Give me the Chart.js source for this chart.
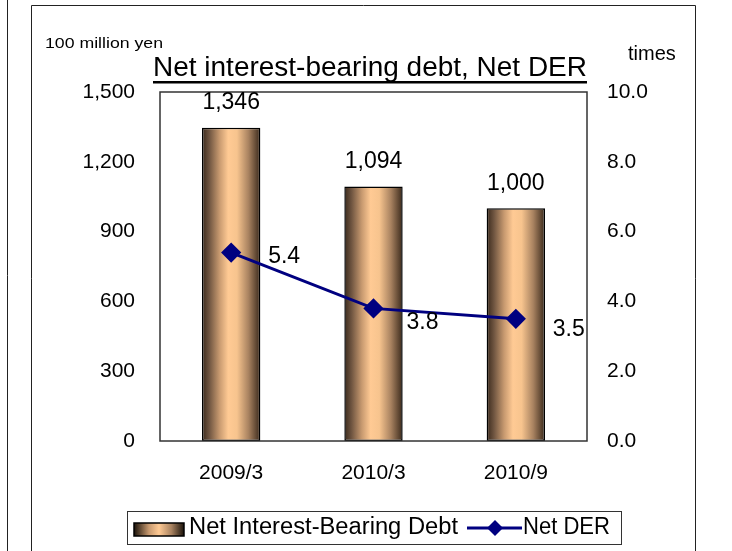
<!DOCTYPE html>
<html>
<head>
<meta charset="utf-8">
<script src="https://cdn.jsdelivr.net/npm/chart.js@4"></script>
<style>
  body { margin: 0; background: #fff; }
  #wrap { width: 732px; height: 551px; }
</style>
</head>
<body>
<div id="wrap"><canvas id="myChart-Debt" width="732" height="551"></canvas></div>
<script>
const periods = ['2009/3', '2010/3', '2010/9'];
const netDebt = [1346, 1094, 1000];
const netDer = [5.4, 3.8, 3.5];
const debtTicks = [0, 300, 600, 900, 1200, 1500];
const derTicks = [0.0, 2.0, 4.0, 6.0, 8.0, 10.0];

const FONT = 'Liberation Sans, Arial, sans-serif';
const barHalf = 29;

function barGradient(ctx) {
  const chart = ctx.chart;
  if (!chart.chartArea) return '#f5c08a';
  const cx = chart.scales.x.getPixelForValue(ctx.dataIndex);
  const g = chart.ctx.createLinearGradient(cx - barHalf, 0, cx + barHalf, 0);
  g.addColorStop(0, '#3b2a1c');
  g.addColorStop(0.12, '#6e5440');
  g.addColorStop(0.3, '#c89a70');
  g.addColorStop(0.45, '#ffca94');
  g.addColorStop(0.6, '#f7c48e');
  g.addColorStop(0.8, '#a88260');
  g.addColorStop(1, '#3b2a1c');
  return g;
}

function drawScaledText(c, text, x, y, size, width, align) {
  c.save();
  c.font = size + 'px ' + FONT;
  const w = c.measureText(text).width;
  const sx = width ? width / w : 1;
  c.translate(x, y);
  c.scale(sx, 1);
  c.textBaseline = 'middle';
  c.textAlign = align || 'left';
  c.fillText(text, 0, 0);
  c.restore();
}

const decorations = {
  id: 'decorations',
  beforeDraw(chart) {
    const c = chart.ctx;
    c.save();
    c.fillStyle = '#fff';
    c.fillRect(0, 0, chart.width, chart.height);
    c.strokeStyle = '#222';
    c.lineWidth = 1;
    c.beginPath();
    c.moveTo(7.5, 0); c.lineTo(7.5, 551);
    c.moveTo(31.5, 560); c.lineTo(31.5, 5.5); c.lineTo(695.5, 5.5); c.lineTo(695.5, 560);
    c.stroke();
    c.restore();
  },
  afterDatasetsDraw(chart) {
    const c = chart.ctx;
    const a = chart.chartArea;
    const xs = chart.scales.x, ys = chart.scales.y, y1 = chart.scales.y1;
    c.save();
    c.strokeStyle = '#333';
    c.lineWidth = 1.5;
    c.strokeRect(a.left, a.top, a.right - a.left, a.bottom - a.top);
    c.fillStyle = '#000';

    // bar value labels
    netDebt.forEach((v, i) => {
      drawScaledText(c, v.toLocaleString('en-US'), xs.getPixelForValue(i), ys.getPixelForValue(v) - 25, 23, null, 'center');
    });
    // line value labels
    const offs = [[37, 4], [33, 14], [37, 11]];
    netDer.forEach((v, i) => {
      drawScaledText(c, v.toFixed(1), xs.getPixelForValue(i) + offs[i][0], y1.getPixelForValue(v) + offs[i][1], 23, null, 'left');
    });

    // title
    drawScaledText(c, 'Net interest-bearing debt, Net DER', 153, 69, 27, 434, 'left');
    c.fillRect(153, 81, 434, 2.5);

    // unit labels
    drawScaledText(c, '100 million yen', 45, 44, 15, 118, 'left');
    drawScaledText(c, 'times', 628, 54, 20, null, 'left');

    // legend
    c.strokeStyle = '#333';
    c.lineWidth = 1;
    c.strokeRect(127.5, 511.5, 494, 33);
    const lg = c.createLinearGradient(134, 0, 184, 0);
    lg.addColorStop(0, '#1a120a');
    lg.addColorStop(0.3, '#c89a70');
    lg.addColorStop(0.5, '#ffca94');
    lg.addColorStop(0.75, '#a88260');
    lg.addColorStop(1, '#1a120a');
    c.fillStyle = lg;
    c.fillRect(134, 523, 50, 13);
    c.strokeStyle = '#000';
    c.lineWidth = 1.5;
    c.strokeRect(134, 523, 50, 13);
    c.fillStyle = '#000';
    drawScaledText(c, 'Net Interest-Bearing Debt', 189, 528, 23, 269, 'left');
    c.strokeStyle = '#000080';
    c.lineWidth = 3;
    c.beginPath(); c.moveTo(467, 528); c.lineTo(522, 528); c.stroke();
    c.fillStyle = '#000080';
    c.beginPath();
    c.moveTo(495, 520); c.lineTo(503, 528); c.lineTo(495, 536); c.lineTo(487, 528);
    c.closePath(); c.fill();
    c.fillStyle = '#000';
    drawScaledText(c, 'Net DER', 523, 528, 23, 87, 'left');
    c.restore();
  }
};

new Chart(document.getElementById('myChart-Debt'), {
  data: {
    labels: periods,
    datasets: [
      {
        type: 'line',
        label: 'Net DER',
        data: netDer,
        yAxisID: 'y1',
        order: 1,
        borderColor: '#000080',
        backgroundColor: '#000080',
        borderWidth: 3,
        pointStyle: 'rectRot',
        pointRadius: 8,
        pointHoverRadius: 8,
        tension: 0
      },
      {
        type: 'bar',
        label: 'Net Interest-Bearing Debt',
        data: netDebt,
        yAxisID: 'y',
        order: 2,
        backgroundColor: barGradient,
        borderColor: '#000',
        borderWidth: 1.5,
        borderSkipped: false,
        barPercentage: 0.41,
        categoryPercentage: 1
      }
    ]
  },
  options: {
    responsive: false,
    animation: false,
    layout: { padding: { top: 92, left: 0, right: 0, bottom: 0 } },
    plugins: { legend: { display: false }, tooltip: { enabled: false } },
    scales: {
      x: {
        grid: { display: false, drawTicks: false },
        border: { display: false },
        ticks: { color: '#000', font: { family: FONT, size: 21 }, padding: 20 },
        afterFit(s) { s.height = 110; }
      },
      y: {
        position: 'left',
        min: 0, max: 1500,
        afterBuildTicks(s) { s.ticks = debtTicks.map(v => ({ value: v })); },
        grid: { display: false, drawTicks: false },
        border: { display: false },
        ticks: { color: '#000', font: { family: FONT, size: 21 }, padding: 25,
          callback: v => v.toLocaleString('en-US') },
        afterFit(s) { s.width = 160; }
      },
      y1: {
        position: 'right',
        min: 0, max: 10,
        afterBuildTicks(s) { s.ticks = derTicks.map(v => ({ value: v })); },
        grid: { display: false, drawTicks: false },
        border: { display: false },
        ticks: { color: '#000', font: { family: FONT, size: 21 }, padding: 20,
          callback: v => v.toFixed(1) },
        afterFit(s) { s.width = 145; }
      }
    }
  },
  plugins: [decorations]
});
</script>
</body>
</html>
